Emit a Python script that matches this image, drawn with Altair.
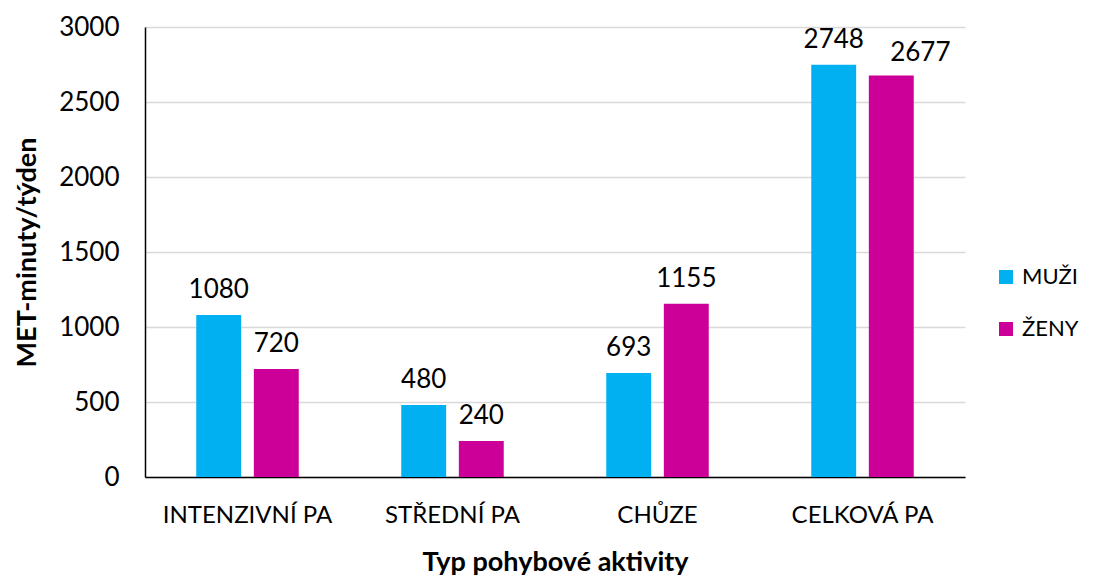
import altair as alt
import pandas as pd

categories = ["INTENZIVNÍ PA", "STŘEDNÍ PA", "CHŮZE", "CELKOVÁ PA"]
series = ["MUŽI", "ŽENY"]
muzi = [1080, 480, 693, 2748]
zeny = [720, 240, 1155, 2677]
colors = ["#00B0F0", "#CC0099"]

rows = []
for c, m, z in zip(categories, muzi, zeny):
    rows.append({"cat": c, "sex": "MUŽI", "val": m})
    rows.append({"cat": c, "sex": "ŽENY", "val": z})
df = pd.DataFrame(rows)

FONT = "Lato"

x = alt.X("cat:N", sort=categories, title="Typ pohybové aktivity",
          scale=alt.Scale(paddingInner=0.5, paddingOuter=0.25),
          axis=alt.Axis(labelAngle=0, labelFontSize=24, labelPadding=26, titleFontSize=27,
                        titleFontWeight="bold", titlePadding=22, ticks=False,
                        domainColor="black", domainWidth=1.5, labelColor="black", titleColor="black"))
xo = alt.XOffset("sex:N", sort=series, scale=alt.Scale(paddingInner=0.22, paddingOuter=0))

base = alt.Chart(df)
bars = base.mark_bar().encode(
    x=x, xOffset=xo,
    y=alt.Y("val:Q", title="MET-minuty/týden",
            scale=alt.Scale(domain=[0, 3000]),
            axis=alt.Axis(values=[0, 500, 1000, 1500, 2000, 2500, 3000], format="d",
                          labelFontSize=26, titleFontSize=27, titleFontWeight="bold",
                          titlePadding=17, labelPadding=26,
                          ticks=False, gridColor="#d9d9d9", gridWidth=1.5, domainColor="black",
                          domainWidth=1.5, labelColor="black", titleColor="black")),
    color=alt.Color("sex:N", sort=series, scale=alt.Scale(domain=series, range=colors),
                    legend=alt.Legend(title=None, orient="none", legendX=850, legendY=239,
                                      labelFontSize=22, symbolType="square", symbolSize=196,
                                      symbolStrokeWidth=0, rowPadding=30, labelOffset=5,
                                      labelColor="black"))
)
is_crowded = (alt.datum.cat == "CELKOVÁ PA") & (alt.datum.sex == "ŽENY")
labels = base.mark_text(baseline="alphabetic", dy=-17, fontSize=26, color="black", font=FONT).encode(
    x=alt.X("cat:N", sort=categories), xOffset=xo, y="val:Q", text="val:Q"
).transform_filter(~is_crowded)
labels_shift = base.mark_text(baseline="alphabetic", dy=-14, dx=29, fontSize=26, color="black", font=FONT).encode(
    x=alt.X("cat:N", sort=categories), xOffset=xo, y="val:Q", text="val:Q"
).transform_filter(is_crowded)

chart = (bars + labels + labels_shift).properties(
    width=820, height=450,
    autosize=alt.AutoSizeParams(type="none"),
    padding={"left": 137, "top": 19, "right": 120, "bottom": 100},
).configure(font=FONT).configure_view(stroke=None)

chart.save("out.html", embed_options={"renderer": "svg", "actions": False})
